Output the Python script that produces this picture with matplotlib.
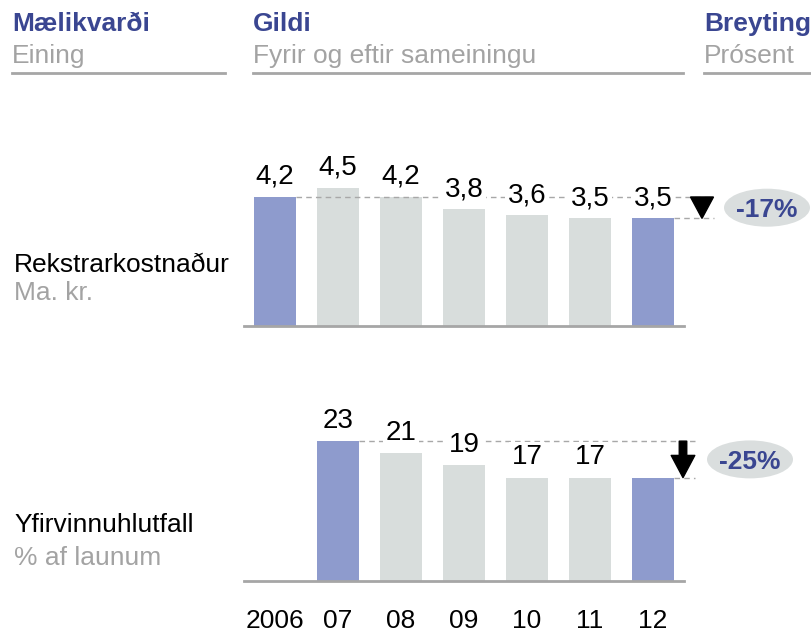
import matplotlib
matplotlib.use("Agg")
import matplotlib.pyplot as plt
from matplotlib.lines import Line2D
from matplotlib.patches import Ellipse, Polygon

plt.rcParams['font.family'] = ['Liberation Sans', 'DejaVu Sans']

# data
years = ['2006', '07', '08', '09', '10', '11', '12']
cost = [4.2, 4.5, 4.2, 3.8, 3.6, 3.5, 3.5]          # Rekstrarkostnaður, Ma. kr.
overtime = [None, 23, 21, 19, 17, 17, 17]          # Yfirvinnuhlutfall, % af launum
overtime_shown = [False, True, True, True, True, True, False]
cost_change = '-17%'
overtime_change = '-25%'

BLUE = '#3a4691'
GREY_TXT = '#a3a3a3'
PURPLE = '#8e9bcd'
LIGHT = '#d8dddc'
DASH = '#a8a8a8'

W, H = 812, 633
fig = plt.figure(figsize=(W / 100, H / 100), dpi=100)


def fx(px):
    return px / W


def fy(py):
    return 1 - py / H


# header
for x0, x1, title, sub in [(12, 225, 'Mælikvarði', 'Eining'),
                           (253, 683, 'Gildi', 'Fyrir og eftir sameiningu'),
                           (704, 812, 'Breyting', 'Prósent')]:
    fig.text(fx(x0), fy(31), title, fontsize=19, fontweight='bold', color=BLUE, va='baseline')
    fig.text(fx(x0), fy(63), sub, fontsize=19, color=GREY_TXT, va='baseline')
    fig.add_artist(Line2D([fx(x0), fx(x1)], [fy(73), fy(73)], color='#a6a6a6', lw=2))

# row titles
fig.text(fx(14), fy(272), 'Rekstrarkostnaður', fontsize=19, color='black', va='baseline')
fig.text(fx(14), fy(300), 'Ma. kr.', fontsize=19, color=GREY_TXT, va='baseline')
fig.text(fx(14), fy(532), 'Yfirvinnuhlutfall', fontsize=19, color='black', va='baseline')
fig.text(fx(14), fy(565), '% af launum', fontsize=19, color=GREY_TXT, va='baseline')

# layout in pixels
x_left, x_right = 244, 684
x0_px, step = 275, 63
xlim = ((x_left - x0_px) / step, (x_right - x0_px) / step)


def make_axes(base_py, top_py):
    ax = fig.add_axes([fx(x_left), fy(base_py), fx(x_right) - fx(x_left), (base_py - top_py) / H])
    for s in ['top', 'right', 'left']:
        ax.spines[s].set_visible(False)
    ax.spines['bottom'].set_color('#a6a6a6')
    ax.spines['bottom'].set_linewidth(2)
    ax.set_yticks([])
    ax.set_xlim(*xlim)
    return ax


ax1 = make_axes(325.5, 172.5)
ax1.set_ylim(0, 5)
ax2 = make_axes(581, 429)
ax2.set_ylim(0, 25)

bw = 42 / step


def panel(ax, vals, shown, fmt, change, py_per_unit, dash_end, arrow_x, ell_x, simple_arrow):
    xs = [i for i, v in enumerate(vals) if v is not None]
    vs = [vals[i] for i in xs]
    # first and last year of the period are highlighted
    cols = [PURPLE if k in (0, len(xs) - 1) else LIGHT for k in range(len(xs))]
    ax.bar(xs, vs, width=bw, color=cols, zorder=2)
    for i, v in zip(xs, vs):
        if shown[i]:
            ax.annotate(fmt(v), (i, v), xytext=(0, 9.5), textcoords='offset points',
                        ha='center', va='baseline', fontsize=20, zorder=5,
                        bbox=dict(boxstyle='square,pad=0.08', fc='white', ec='none'))
    first, last = vs[0], vs[-1]
    xe = (dash_end - x0_px) / step
    ax.plot([xs[0] + bw / 2, xe], [first, first], color=DASH, lw=1, ls=(0, (4, 3)),
            zorder=3, clip_on=False)
    ax.plot([xs[-1] + bw / 2, xe], [last, last], color=DASH, lw=1, ls=(0, (4, 3)),
            zorder=3, clip_on=False)
    xa = (arrow_x - x0_px) / step
    if simple_arrow:
        ax.annotate('', xy=(xa, last), xytext=(xa, first),
                    arrowprops=dict(arrowstyle='simple,head_length=0.8,head_width=0.85,tail_width=0.27',
                                    fc='black', ec='black', mutation_scale=20,
                                    shrinkA=0, shrinkB=0), annotation_clip=False)
    else:
        hw = 11.5 / step
        ax.add_patch(Polygon([(xa - hw, first), (xa + hw, first), (xa, last)],
                             closed=True, fc='black', ec='black', clip_on=False, zorder=4))
    xc = (ell_x - x0_px) / step
    yc = (first + last) / 2
    ax.add_patch(Ellipse((xc, yc), 86 / step, 38 / py_per_unit, fc='#dadede', ec='none',
                         clip_on=False, zorder=4))
    ax.text(xc, yc, change, ha='center', va='center_baseline', fontsize=19,
            fontweight='bold', color=BLUE, zorder=5)


panel(ax1, cost, [True] * 7, lambda v: f'{v:.1f}'.replace('.', ','), cost_change,
      30.6, 714, 702, 767, False)
panel(ax2, overtime, overtime_shown, lambda v: f'{v:.0f}', overtime_change,
      6.087, 695, 683, 750, True)

ax1.set_xticks([])
ax2.set_xticks(range(len(years)), years, fontsize=19)
ax2.tick_params(axis='x', length=0, pad=20)

fig.savefig('out.png', dpi=100)
